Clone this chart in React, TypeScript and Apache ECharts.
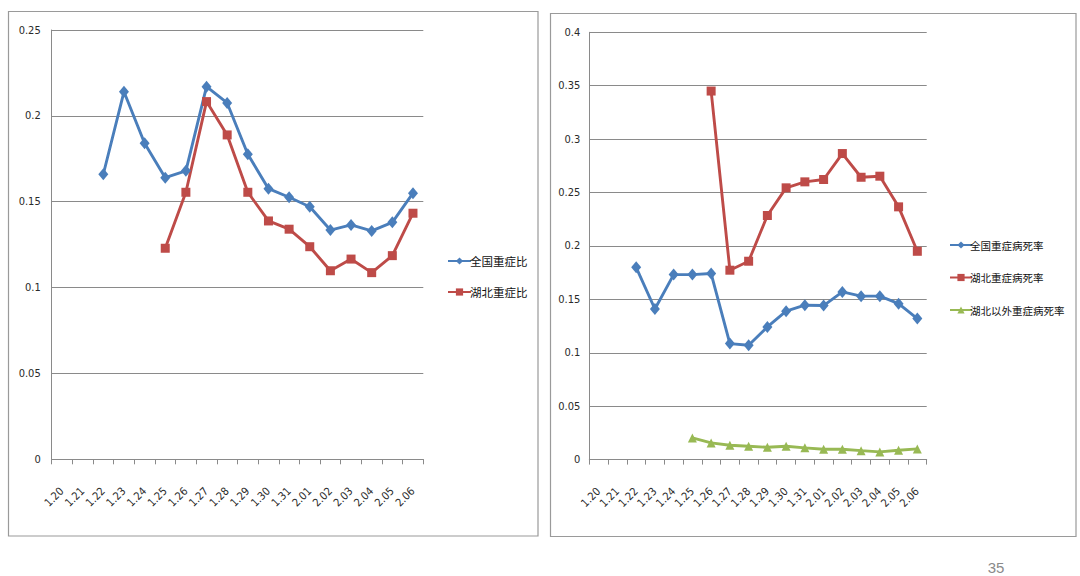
import React, { useEffect, useRef } from "react";
import * as echarts from "echarts";

const categories = ["1.20","1.21","1.22","1.23","1.24","1.25","1.26","1.27","1.28","1.29","1.30","1.31","2.01","2.02","2.03","2.04","2.05","2.06"];

const leftYTicks = { min: 0, max: 0.25, interval: 0.05 };
const rightYTicks = { min: 0, max: 0.4, interval: 0.05 };

// 全国重症比 (from 1.22)
const nationalSevereRatio = [null, null, 0.166, 0.214, 0.184, 0.164, 0.168, 0.217, 0.2075, 0.1776, 0.1576, 0.1526, 0.1471, 0.1335, 0.1365, 0.133, 0.138, 0.155];
// 湖北重症比 (from 1.25)
const hubeiSevereRatio = [null, null, null, null, null, 0.1229, 0.1555, 0.2083, 0.1889, 0.1555, 0.1388, 0.134, 0.1238, 0.1098, 0.1166, 0.1087, 0.1186, 0.1433];

// 全国重症病死率 (from 1.22)
const nationalSevereDeath = [null, null, 0.18, 0.141, 0.1732, 0.1732, 0.1742, 0.1086, 0.107, 0.1242, 0.1389, 0.1445, 0.1442, 0.157, 0.153, 0.153, 0.146, 0.132];
// 湖北重症病死率 (from 1.26)
const hubeiSevereDeath = [null, null, null, null, null, null, 0.345, 0.1773, 0.1857, 0.2285, 0.2544, 0.26, 0.2622, 0.2865, 0.2643, 0.2653, 0.2366, 0.195];
// 湖北以外重症病死率 (from 1.25)
const outsideSevereDeath = [null, null, null, null, null, 0.0203, 0.0156, 0.0134, 0.0125, 0.0115, 0.0125, 0.011, 0.0097, 0.0097, 0.0084, 0.0072, 0.0087, 0.01];

const BLUE = "#4A7EBB";
const RED = "#BE4B48";
const GREEN = "#98B954";
const GRID = "#8a8a8a";
const AXISFONT = "'Liberation Sans Narrow', 'DejaVu Sans Condensed', 'Liberation Sans', sans-serif";
const CJK = "'Noto Sans CJK SC', sans-serif";

export default function App() {
  const ref = useRef<HTMLDivElement>(null);

  useEffect(() => {
    if (!ref.current) return;
    const chart = echarts.init(ref.current, null, { renderer: "svg" });

    const xAxisCommon = (gridIndex: number) => ({
      type: "category",
      gridIndex,
      data: categories,
      boundaryGap: true,
      axisLine: { lineStyle: { color: GRID, width: 1 } },
      axisTick: { show: true, length: 5, lineStyle: { color: GRID } },
      axisLabel: {
        rotate: 45,
        interval: 0,
        margin: 30,
        fontSize: 11,
        color: "#2a2a2a",
        fontFamily: AXISFONT,
      },
      splitLine: { show: false },
    });

    const yAxisCommon = (gridIndex: number, t: { min: number; max: number; interval: number }, margin: number) => ({
      type: "value",
      gridIndex,
      min: t.min,
      max: t.max,
      interval: t.interval,
      axisLine: { show: true, lineStyle: { color: GRID, width: 1 } },
      axisTick: { show: false },
      axisLabel: { margin, fontSize: 11, color: "#2a2a2a", fontFamily: AXISFONT },
      splitLine: { show: true, lineStyle: { color: GRID, width: 1.2 } },
    });

    const lineSeries = (name: string, data: (number | null)[], color: string, symbol: string, symbolSize: number | number[], xi: number) => ({
      name,
      type: "line",
      xAxisIndex: xi,
      yAxisIndex: xi,
      data,
      color,
      symbol,
      symbolSize,
      showAllSymbol: true,
      lineStyle: { color, width: 2.9 },
      itemStyle: { color, borderColor: color, borderWidth: 0 },
      connectNulls: false,
      z: 3,
    });

    chart.setOption({
      animation: false,
      backgroundColor: "#ffffff",
      grid: [
        { left: 51.7, top: 30, width: 371.6, height: 429.3, containLabel: false },
        { left: 589.3, top: 32.3, width: 337.4, height: 427.3, containLabel: false },
      ],
      xAxis: [xAxisCommon(0), xAxisCommon(1)],
      yAxis: [yAxisCommon(0, leftYTicks, 11), yAxisCommon(1, rightYTicks, 9)],
      legend: [
        {
          orient: "vertical",
          left: 442,
          top: 249,
          itemWidth: 23,
          itemHeight: 9,
          itemGap: 17,
          data: ["全国重症比", "湖北重症比"],
          textStyle: { fontFamily: CJK, fontSize: 11.5, color: "#111", lineHeight: 14, padding: [0, 0, 0, -6] },
        },
        {
          orient: "vertical",
          left: 944,
          top: 233,
          itemWidth: 22,
          itemHeight: 9,
          itemGap: 18.5,
          data: ["全国重症病死率", "湖北重症病死率", "湖北以外重症病死率"],
          textStyle: { fontFamily: CJK, fontSize: 10.5, color: "#111", lineHeight: 14, padding: [0, 0, 0, -7] },
        },
      ],
      graphic: [
        { type: "rect", shape: { x: 8.5, y: 11.5, width: 529.5, height: 524.5 }, style: { fill: "none", stroke: "#9a9a9a", lineWidth: 1.2 }, silent: true },
        { type: "rect", shape: { x: 550.5, y: 13.5, width: 525.5, height: 523 }, style: { fill: "none", stroke: "#9a9a9a", lineWidth: 1.2 }, silent: true },
        { type: "text", x: 996, y: 567, style: { text: "35", fill: "#8a8a8a", fontSize: 15, fontFamily: "'Liberation Sans', sans-serif", textAlign: "center", textVerticalAlign: "middle" }, silent: true },
      ],
      series: [
        lineSeries("全国重症比", nationalSevereRatio, BLUE, "diamond", [10, 12], 0),
        lineSeries("湖北重症比", hubeiSevereRatio, RED, "rect", 9, 0),
        lineSeries("全国重症病死率", nationalSevereDeath, BLUE, "diamond", [10, 12], 1),
        lineSeries("湖北重症病死率", hubeiSevereDeath, RED, "rect", 9, 1),
        lineSeries("湖北以外重症病死率", outsideSevereDeath, GREEN, "triangle", 9, 1),
      ],
    });

    return () => chart.dispose();
  }, []);

  return (
    <div
      ref={ref}
      style={{ position: "absolute", left: 0, top: 0, width: 1080, height: 576, background: "#fff" }}
    />
  );
}
